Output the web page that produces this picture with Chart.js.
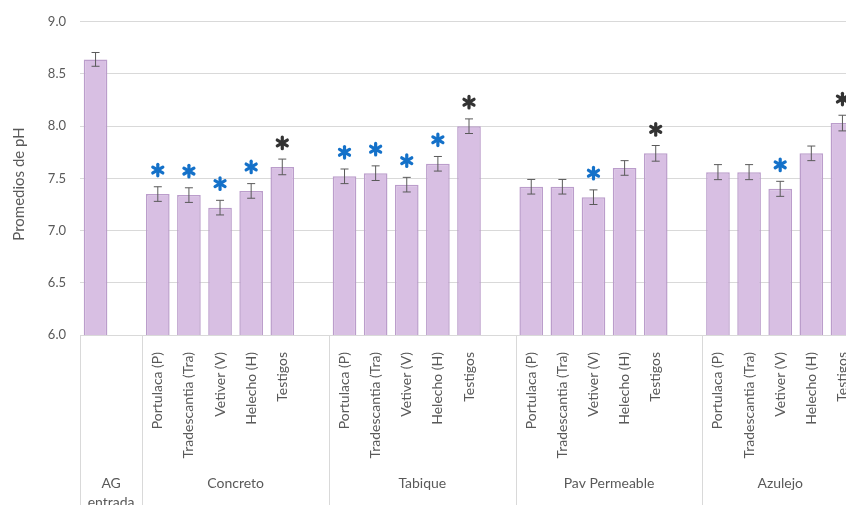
<!doctype html>
<html>
<head>
<meta charset="utf-8">
<title>Promedios de pH</title>
<script src="https://cdn.jsdelivr.net/npm/chart.js@4"></script>
<style>
  html, body { margin: 0; padding: 0; background: #fff; overflow: hidden; }
</style>
</head>
<body>
<canvas id="grafico" width="862" height="505"></canvas>
<script>
  // plantas evaluadas en cada sustrato
  const plantas = ['Portulaca (P)', 'Tradescantia (Tra)', 'Vetiver (V)', 'Helecho (H)', 'Testigos'];
  const sustratos = ['Concreto', 'Tabique', 'Pav Permeable', 'Azulejo'];

  // agua gris de entrada
  const agEntrada = 8.64;
  const agError = 0.066;

  // promedios de pH por sustrato (mismo orden que plantas)
  const concreto     = [7.35, 7.34, 7.22, 7.38, 7.61];
  const tabique      = [7.52, 7.55, 7.44, 7.64, 8.00];
  const pavPermeable = [7.42, 7.42, 7.32, 7.60, 7.74];
  const azulejo      = [7.56, 7.56, 7.40, 7.74, 8.03];

  // error estándar
  const errConcreto     = [0.07, 0.07, 0.07, 0.07, 0.075];
  const errTabique      = [0.07, 0.07, 0.07, 0.07, 0.07];
  const errPavPermeable = [0.07, 0.07, 0.07, 0.07, 0.075];
  const errAzulejo      = [0.072, 0.072, 0.072, 0.07, 0.075];

  // diferencias significativas: 'a' = azul, 'n' = negro
  const sigConcreto     = ['a', 'a', 'a', 'a', 'n'];
  const sigTabique      = ['a', 'a', 'a', 'a', 'n'];
  const sigPavPermeable = [null, null, 'a', null, 'n'];
  const sigAzulejo      = [null, null, 'a', null, 'n'];

  const yTicks = [6.0, 6.5, 7.0, 7.5, 8.0, 8.5, 9.0];
  const tituloY = 'Promedios de pH';

  // armar las posiciones: AG + hueco, luego cada sustrato con un hueco entre ellos
  const etiquetas = ['', ''];
  const valores = [agEntrada, null];
  const errores = [agError, null];
  const marcas = [null, null];
  const grupos = [{ nombre: ['AG', 'entrada'], desde: 0, hasta: 1 }];
  const porSustrato = [
    [concreto, errConcreto, sigConcreto],
    [tabique, errTabique, sigTabique],
    [pavPermeable, errPavPermeable, sigPavPermeable],
    [azulejo, errAzulejo, sigAzulejo]
  ];
  porSustrato.forEach(([vals, errs, sigs], g) => {
    const desde = etiquetas.length;
    plantas.forEach((p, i) => {
      etiquetas.push(p);
      valores.push(vals[i]);
      errores.push(errs[i]);
      marcas.push(sigs[i]);
    });
    if (g < porSustrato.length - 1) {
      etiquetas.push('');
      valores.push(null);
      errores.push(null);
      marcas.push(null);
    }
    grupos.push({ nombre: [sustratos[g]], desde: desde, hasta: etiquetas.length - 1 });
  });

  const gris = '#595959';
  const fuente = 'Lato, "Open Sans", sans-serif';

  function asterisco(ctx, cx, cy, color) {
    ctx.save();
    ctx.strokeStyle = color;
    ctx.lineWidth = 3.2;
    ctx.lineCap = 'round';
    const r = 5.8;
    for (let k = 0; k < 3; k++) {
      const a = Math.PI / 2 + k * Math.PI / 3;
      ctx.beginPath();
      ctx.moveTo(cx - r * Math.cos(a), cy - r * Math.sin(a));
      ctx.lineTo(cx + r * Math.cos(a), cy + r * Math.sin(a));
      ctx.stroke();
    }
    ctx.restore();
  }

  // barras de error y asteriscos
  const barrasError = {
    id: 'barrasError',
    afterDatasetsDraw(chart) {
      const { ctx, scales: { x, y } } = chart;
      ctx.save();
      ctx.strokeStyle = '#5a5a5a';
      ctx.lineWidth = 1;
      valores.forEach((v, i) => {
        if (v == null) return;
        const px = x.getPixelForValue(i);
        const yTop = y.getPixelForValue(v + errores[i]);
        const yBot = y.getPixelForValue(v - errores[i]);
        ctx.beginPath();
        ctx.moveTo(px, yTop); ctx.lineTo(px, yBot);
        ctx.moveTo(px - 4, yTop); ctx.lineTo(px + 4, yTop);
        ctx.moveTo(px - 4, yBot); ctx.lineTo(px + 4, yBot);
        ctx.stroke();
        if (marcas[i]) {
          const color = marcas[i] === 'a' ? '#1471c9' : '#333333';
          asterisco(ctx, px, y.getPixelForValue(v) - 24, color);
        }
      });
      ctx.restore();
    }
  };

  // separadores y nombres de los grupos bajo el eje, y título del eje Y
  const ejeGrupos = {
    id: 'ejeGrupos',
    afterDraw(chart) {
      const { ctx, chartArea, scales: { x } } = chart;
      const paso = x.getPixelForValue(1) - x.getPixelForValue(0);
      const bottom = chart.height;
      ctx.save();
      ctx.strokeStyle = '#d9d9d9';
      ctx.lineWidth = 1;
      ctx.fillStyle = gris;
      ctx.font = '14px ' + fuente;
      ctx.textAlign = 'center';
      ctx.textBaseline = 'middle';
      grupos.forEach((g) => {
        const izq = x.getPixelForValue(g.desde) - paso / 2;
        const der = x.getPixelForValue(g.hasta) + paso / 2;
        ctx.beginPath();
        ctx.moveTo(Math.round(izq) + 0.5, chartArea.bottom);
        ctx.lineTo(Math.round(izq) + 0.5, bottom);
        ctx.stroke();
        const cx = (izq + der) / 2;
        g.nombre.forEach((linea, k) => {
          ctx.fillText(linea, cx, 483 + k * 19);
        });
      });

      ctx.translate(19, 184);
      ctx.rotate(-Math.PI / 2);
      ctx.font = '15px ' + fuente;
      ctx.fillText(tituloY, 0, 0);
      ctx.restore();
    }
  };

  const ctx = document.getElementById('grafico').getContext('2d');
  new Chart(ctx, {
    type: 'bar',
    data: {
      labels: etiquetas,
      datasets: [{
        data: valores,
        backgroundColor: '#d8bfe3',
        borderColor: '#bb9dcb',
        borderWidth: 1.5,
        barPercentage: 0.76,
        categoryPercentage: 1.0
      }]
    },
    options: {
      responsive: false,
      animation: false,
      layout: { padding: { top: 18, right: 4, left: 0, bottom: 0 } },
      plugins: {
        legend: { display: false },
        tooltip: { enabled: false }
      },
      scales: {
        x: {
          grid: { display: false },
          border: { display: false },
          ticks: {
            autoSkip: false,
            minRotation: 90,
            maxRotation: 90,
            padding: 9,
            color: gris,
            font: { family: fuente, size: 14 }
          },
          afterFit: (scale) => {
            scale.height = 170;
            scale.paddingLeft = 0;
            scale.paddingRight = 0;
          }
        },
        y: {
          min: 6,
          max: 9,
          afterBuildTicks: (scale) => { scale.ticks = yTicks.map(v => ({ value: v })); },
          grid: { color: '#d9d9d9', drawTicks: false },
          border: { display: false },
          ticks: {
            padding: 14,
            color: gris,
            font: { family: fuente, size: 13 },
            callback: (value) => value.toFixed(1)
          },
          afterFit: (scale) => { scale.width = 80; }
        }
      }
    },
    plugins: [barrasError, ejeGrupos]
  });
</script>
</body>
</html>
